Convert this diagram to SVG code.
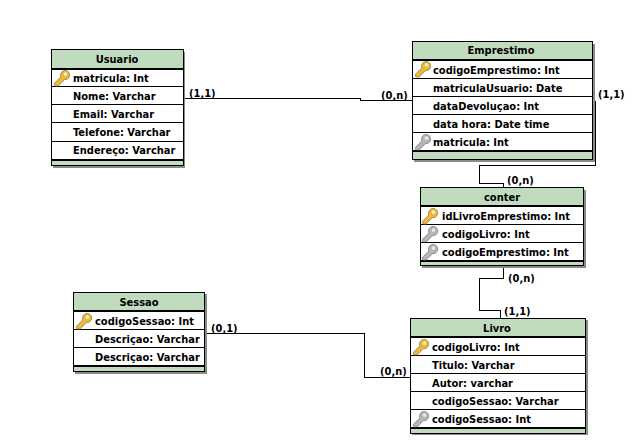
<svg xmlns="http://www.w3.org/2000/svg" width="640" height="441" viewBox="0 0 640 441">
<style>
text{font-family:"DejaVu Sans Condensed","DejaVu Sans",Verdana,sans-serif;font-stretch:condensed;font-size:11px;font-weight:bold;fill:#000}
.h{text-anchor:middle}
.box{fill:#fff;stroke:#000;stroke-width:1;shape-rendering:crispEdges}
.head{fill:#c1dbbf;shape-rendering:crispEdges}
.sh{fill:#8a8a8a;shape-rendering:crispEdges}
.r{stroke:#000;stroke-width:1;fill:none;shape-rendering:crispEdges}
.t{stroke:#000;stroke-width:2;fill:none;shape-rendering:crispEdges}
.c{stroke:#000;stroke-width:1;fill:none;shape-rendering:crispEdges}
</style>
<defs>
<g id="key"><g transform="translate(.5 .5) scale(.92)"><path d="M1 15l7-7a5 5 0 1 1 4 3l-7 7h-3l-1-1z" fill="currentColor" stroke-width=".8" stroke="#777"/><circle cx="13" cy="5" r="2" fill="#fff" opacity=".7"/></g></g>
</defs>
<rect width="640" height="441" fill="#fff"/>
<g id="connectors">
<path class="c" d="M185 98.500H360.500V100.500H412"/>
<path class="c" d="M593 101.500H595.500V165.500H479.500V183.500H503.500V187"/>
<path class="c" d="M503.500 267V278.500H479.500V310.500H500.500V318"/>
<path class="c" d="M207 333.500H364.500V377.500H410"/>
</g>
<g id="labels">
<text x="189" y="97">(1,1)</text>
<text x="381" y="99">(0,n)</text>
<text x="598" y="98">(1,1)</text>
<text x="507" y="184">(0,n)</text>
<text x="508" y="282">(0,n)</text>
<text x="504" y="315">(1,1)</text>
<text x="211" y="332">(0,1)</text>
<text x="380" y="375">(0,n)</text>
</g>
<g id="usuario">
<rect class="sh" x="53" y="52" width="132" height="116"/>
<rect class="box" x="51.500" y="49.500" width="132" height="116"/>
<rect class="head" x="52" y="50" width="131" height="18"/>
<rect class="head" x="52" y="161" width="131" height="4"/>
<path class="t" d="M52 68.500H183M52 160H183"/><path class="r" d="M52 86.500H183M52 104.500H183M52 122.500H183M52 141.500H183"/>
<use href="#key" x="53" y="69" color="#eeb92f"/>
<text class="h" x="117" y="63">Usuario</text>
<text x="73" y="82">matricula: Int</text>
<text x="73" y="100">Nome: Varchar</text>
<text x="73" y="118">Email: Varchar</text>
<text x="73" y="136">Telefone: Varchar</text>
<text x="73" y="154">Endereço: Varchar</text>
</g>
<g id="emprestimo">
<rect class="sh" x="414" y="44" width="181" height="118"/>
<rect class="box" x="412.500" y="41.500" width="180" height="118"/>
<rect class="head" x="413" y="42" width="179" height="17"/>
<rect class="head" x="413" y="152" width="179" height="7"/>
<path class="t" d="M413 60H592M413 151H592"/><path class="r" d="M413 78.500H592M413 96.500H592M413 114.500H592M413 132.500H592"/>
<use href="#key" x="414" y="60" color="#eeb92f"/>
<use href="#key" x="414" y="133" color="#b5b5b5"/>
<text class="h" x="501" y="54">Emprestimo</text>
<text x="433" y="74">codigoEmprestimo: Int</text>
<text x="433" y="92">matriculaUsuario: Date</text>
<text x="433" y="110">dataDevoluçao: Int</text>
<text x="433" y="128">data hora: Date time</text>
<text x="433" y="146">matricula: Int</text>
</g>
<g id="conter">
<rect class="sh" x="422" y="190" width="164" height="78"/>
<rect class="box" x="420.500" y="187.500" width="163" height="78"/>
<rect class="head" x="421" y="188" width="162" height="18"/>
<rect class="head" x="421" y="262" width="162" height="3"/>
<path class="t" d="M421 206H583M421 261H583"/><path class="r" d="M421 224.500H583M421 242.500H583"/>
<use href="#key" x="421" y="207" color="#eeb92f"/>
<use href="#key" x="421" y="225" color="#b5b5b5"/>
<use href="#key" x="421" y="243" color="#b5b5b5"/>
<text class="h" x="502" y="201">conter</text>
<text x="442" y="220">idLivroEmprestimo: Int</text>
<text x="442" y="238">codigoLivro: Int</text>
<text x="442" y="256">codigoEmprestimo: Int</text>
</g>
<g id="sessao">
<rect class="sh" x="75" y="294" width="132" height="80"/>
<rect class="box" x="73.500" y="292.500" width="131" height="79"/>
<rect class="head" x="74" y="293" width="130" height="17"/>
<rect class="head" x="74" y="367" width="130" height="4"/>
<path class="t" d="M74 311H204M74 366H204"/><path class="r" d="M74 329.500H204M74 347.500H204"/>
<use href="#key" x="75" y="312" color="#eeb92f"/>
<text class="h" x="139" y="306">Sessao</text>
<text x="95" y="325">codigoSessao: Int</text>
<text x="95" y="343">Descriçao: Varchar</text>
<text x="95" y="361">Descriçao: Varchar</text>
</g>
<g id="livro">
<rect class="sh" x="412" y="320" width="176" height="115"/>
<rect class="box" x="410.500" y="318.500" width="175" height="115"/>
<rect class="head" x="411" y="319" width="174" height="17"/>
<rect class="head" x="411" y="429" width="174" height="4"/>
<path class="t" d="M411 337H585M411 428H585"/><path class="r" d="M411 355.500H585M411 373.500H585M411 391.500H585M411 409.500H585"/>
<use href="#key" x="412" y="338" color="#eeb92f"/>
<use href="#key" x="412" y="410" color="#b5b5b5"/>
<text class="h" x="497" y="332">Livro</text>
<text x="432" y="351">codigoLivro: Int</text>
<text x="432" y="369">Titulo: Varchar</text>
<text x="432" y="387">Autor: varchar</text>
<text x="432" y="405">codigoSessao: Varchar</text>
<text x="432" y="423">codigoSessao: Int</text>
</g>
</svg>
